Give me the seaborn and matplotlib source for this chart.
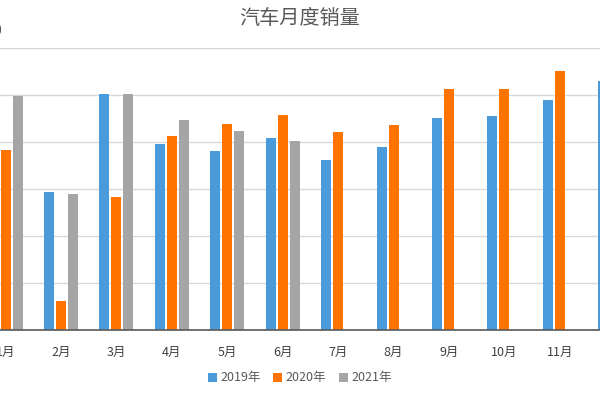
import numpy as np
import pandas as pd
import matplotlib
matplotlib.use("Agg")
import matplotlib.pyplot as plt
import seaborn as sns
from matplotlib.patches import Patch

months = ["1月", "2月", "3月", "4月", "5月", "6月", "7月", "8月", "9月", "10月", "11月", "12月"]
years = ["2019年", "2020年", "2021年"]
sales_2019 = [237, 147, 251, 198, 190, 204, 181, 195, 226, 228, 245, 265]
sales_2020 = [192, 31, 141, 206, 219, 229, 211, 218, 256, 256, 276, 283]
sales_2021 = [249, 145, 251, 223, 212, 201, np.nan, np.nan, np.nan, np.nan, np.nan, np.nan]
colors = ["#4A9BDC", "#FF7300", "#A5A5A5"]

df = pd.DataFrame({
    "month": months * 3,
    "year": [years[0]] * 12 + [years[1]] * 12 + [years[2]] * 12,
    "sales": sales_2019 + sales_2020 + sales_2021,
})

sns.set_style("white")
plt.rcParams["font.family"] = ["Noto Sans CJK SC", "DejaVu Sans"]

fig = plt.figure(figsize=(6, 4), dpi=100)
# axes extend beyond the figure edges (reference is a cropped view)
ax = fig.add_axes([-22.1 / 600, 70 / 400, 665.1 / 600, 282 / 400])

sns.barplot(data=df, x="month", y="sales", hue="year", order=months,
            hue_order=years, palette=colors, saturation=1, width=0.65,
            gap=0.17, linewidth=0, ax=ax, legend=False)

ax.set_ylim(0, 300)
ax.set_xlim(-0.5, 11.5)
ax.set_yticks(np.arange(0, 301, 50))
ax.yaxis.grid(True, color="#D9D9D9", linewidth=1)
ax.set_axisbelow(True)
ax.tick_params(axis="y", left=False, labelleft=False)
ax.tick_params(axis="x", bottom=False, labelsize=9, labelcolor="#404040", pad=8)
ax.set_xlabel("")
ax.set_ylabel("")
for s in ["top", "right", "left"]:
    ax.spines[s].set_visible(False)
ax.spines["bottom"].set_color("#595959")
ax.spines["bottom"].set_linewidth(1.2)

fig.text(0.5, 1 - 18 / 400, "汽车月度销量", ha="center", va="center",
         fontsize=14.5, color="#595959")
# partially visible axis label at the cropped left edge
fig.text(1.5 / 600, 1 - 31 / 400, "0", ha="right", va="center",
         fontsize=10, color="#595959")

handles = [Patch(facecolor=c, edgecolor="none") for c in colors]
fig.legend(handles, years, loc="center", bbox_to_anchor=(0.5, 1 - 378 / 400),
           ncol=3, frameon=False, fontsize=9, labelcolor="#595959",
           handlelength=0.7, handleheight=0.7, handletextpad=0.3, columnspacing=1.0)

fig.savefig("out.png", dpi=100)
